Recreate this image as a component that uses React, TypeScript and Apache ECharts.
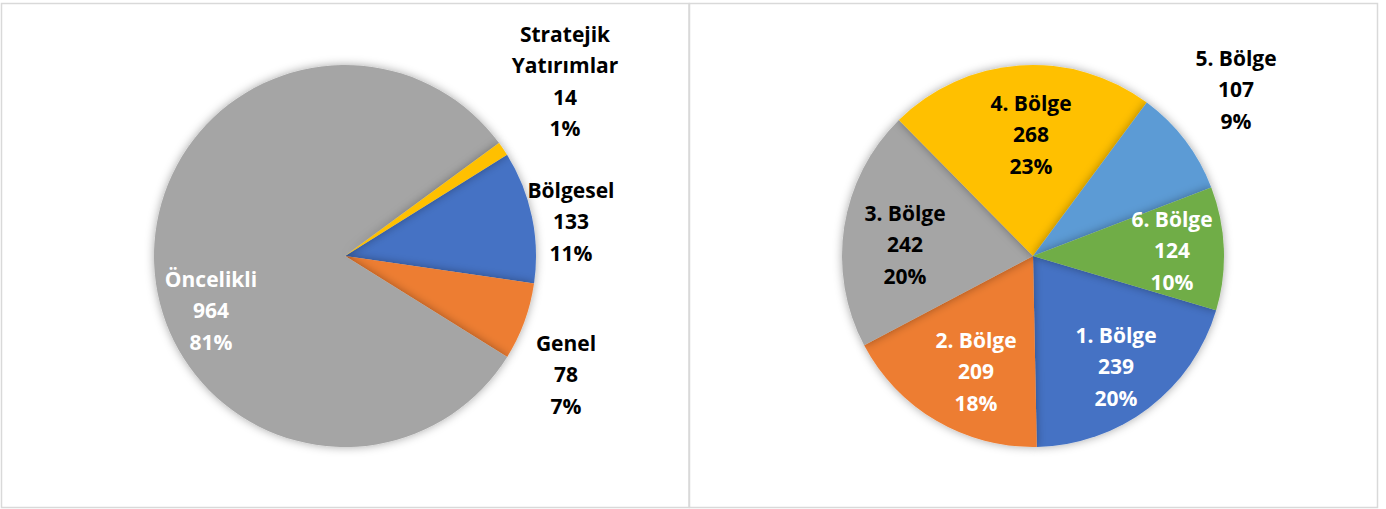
import React, { useEffect, useRef } from "react";
import * as echarts from "echarts";

// Left pie: distribution by type
const typeNames = ["Bölgesel", "Genel", "Öncelikli", "Stratejik Yatırımlar"];
const typeValues = [133, 78, 964, 14];
const typeColors = ["#4472C4", "#ED7D31", "#A5A5A5", "#FFC000"];
const typeTextColors = ["#000000", "#000000", "#FFFFFF", "#000000"];

// Right pie: distribution by region
const regionNames = ["1. Bölge", "2. Bölge", "3. Bölge", "4. Bölge", "5. Bölge", "6. Bölge"];
const regionValues = [239, 209, 242, 268, 107, 124];
const regionColors = ["#4472C4", "#ED7D31", "#A5A5A5", "#FFC000", "#5B9BD5", "#70AD47"];
const regionTextColors = ["#FFFFFF", "#FFFFFF", "#000000", "#000000", "#000000", "#FFFFFF"];

// label placement offsets relative to pie centre (layout only)
const leftCenter = [345, 256];
const rightCenter = [1033, 256];
const pieRadius = 191;
const leftLabelOffsets = [
  [226, -35],
  [221, 118],
  [-134, 54],
  [220, -175],
];
const rightLabelOffsets = [
  [83, 110],
  [-57, 115],
  [-128, -12],
  [-2, -122],
  [203, -167],
  [139, -6],
];

const FONT = "'Open Sans', Lato, sans-serif";

export default function App() {
  const ref = useRef<HTMLDivElement>(null);
  useEffect(() => {
    if (!ref.current) return;
    const chart = echarts.init(ref.current, undefined, { renderer: "svg" });
    const mkSeries = (
      names: string[],
      values: number[],
      colors: string[],
      textColors: string[],
      center: number[],
      offsets: number[][],
      startAngle: number,
      splitSpaces: boolean
    ) => ({
      type: "pie",
      center,
      radius: pieRadius,
      startAngle,
      clockwise: true,
      percentPrecision: 0,
      silent: true,
      emphasis: { disabled: true },
      labelLine: { show: false },
      itemStyle: {
        shadowBlur: 10,
        shadowColor: "rgba(0,0,0,0.35)",
        shadowOffsetX: 0,
        shadowOffsetY: 0,
      },
      label: {
        show: true,
        position: "inside",
        fontFamily: FONT,
        fontWeight: "bold",
        fontSize: 21,
        lineHeight: 31.5,
        align: "center",
        formatter: (p: any) =>
          (splitSpaces ? p.name.replace(/ /g, "\n") : p.name) + "\n" + p.value + "\n" + p.percent + "%",
      },
      labelLayout: (p: any) => {
        const o = offsets[p.dataIndex];
        return {
          x: center[0] + o[0],
          y: center[1] + o[1],
          align: "center",
          verticalAlign: "middle",
        };
      },
      data: names.map((n, i) => ({
        name: n,
        value: values[i],
        itemStyle: { color: colors[i] },
        label: { color: textColors[i] },
      })),
    });
    chart.setOption({
      animation: false,
      graphic: [
        {
          type: "rect",
          shape: { x: 1.5, y: 3.5, width: 687.5, height: 504 },
          style: { fill: "none", stroke: "#D9D9D9", lineWidth: 1.5 },
          silent: true,
        },
        {
          type: "rect",
          shape: { x: 689.5, y: 3.5, width: 688, height: 504 },
          style: { fill: "none", stroke: "#D9D9D9", lineWidth: 1.5 },
          silent: true,
        },
      ],
      series: [
        mkSeries(typeNames, typeValues, typeColors, typeTextColors, leftCenter, leftLabelOffsets, 32, true),
        mkSeries(regionNames, regionValues, regionColors, regionTextColors, rightCenter, rightLabelOffsets, -16.5, false),
      ],
    });
    return () => chart.dispose();
  }, []);
  return (
    <div
      ref={ref}
      style={{ position: "absolute", left: 0, top: 0, width: 1386, height: 509, background: "#FFFFFF" }}
    />
  );
}
